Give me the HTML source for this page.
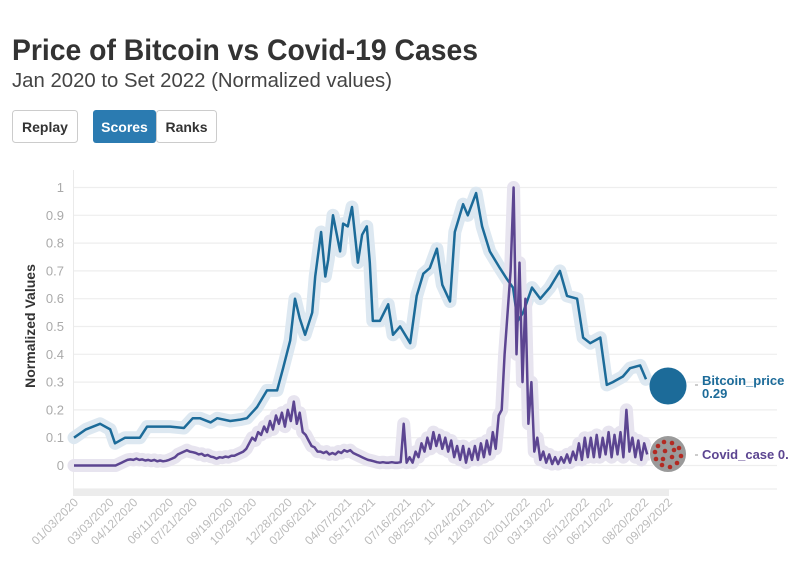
<!DOCTYPE html>
<html><head><meta charset="utf-8"><style>
body{margin:0;background:#fff;width:796px;height:575px;overflow:hidden;font-family:"Liberation Sans",sans-serif}
svg{display:block}
</style></head><body>
<svg width="796" height="575">
<text x="12" y="60" font-size="30" font-weight="bold" fill="#333" textLength="466" lengthAdjust="spacingAndGlyphs">Price of Bitcoin vs Covid-19 Cases</text>
<text x="12" y="87" font-size="20" fill="#444" textLength="380" lengthAdjust="spacingAndGlyphs">Jan 2020 to Set 2022 (Normalized values)</text>
<g><rect x="12.5" y="110.5" width="65" height="32" rx="3" fill="#fff" stroke="#ccc"/><text x="45" y="132" font-size="14" font-weight="bold" fill="#333" text-anchor="middle">Replay</text></g>
<g><rect x="93" y="110" width="63" height="33" rx="3" fill="#2b7bb1"/><text x="124.5" y="132" font-size="14" font-weight="bold" fill="#fff" text-anchor="middle">Scores</text></g>
<g><rect x="156.5" y="110.5" width="60" height="32" rx="3" fill="#fff" stroke="#ccc"/><text x="186.5" y="132" font-size="14" font-weight="bold" fill="#333" text-anchor="middle">Ranks</text></g>
<g id="plot"></g>
</svg>
<script>
const yTicks=[0,0.1,0.2,0.3,0.4,0.5,0.6,0.7,0.8,0.9,1];
const yTickLabels=["0","0.1","0.2","0.3","0.4","0.5","0.6","0.7","0.8","0.9","1"];
const xTickDays=[0,60,100,160,200,260,300,360,400,460,500,560,600,660,700,760,800,860,900,960,1000];
const xTickLabels=["01/03/2020","03/03/2020","04/12/2020","06/11/2020","07/21/2020","09/19/2020","10/29/2020","12/28/2020","02/06/2021","04/07/2021","05/17/2021","07/16/2021","08/25/2021","10/24/2021","12/03/2021","02/01/2022","03/13/2022","05/12/2022","06/21/2022","08/20/2022","09/29/2022"];
const btcDays=[0,20,44,61,69,86,111,123,140,162,185,200,212,230,241,263,280,291,308,325,342,352,364,372,380,389,401,406,416,423,428,436,448,453,461,468,478,485,493,498,503,515,529,537,549,566,577,588,599,611,620,633,641,655,663,677,687,700,717,729,739,747,756,771,785,801,818,830,847,857,869,886,897,907,924,936,953,963];
const btcVals=[0.10,0.13,0.15,0.13,0.08,0.10,0.10,0.14,0.14,0.14,0.135,0.17,0.17,0.155,0.17,0.16,0.165,0.17,0.21,0.27,0.27,0.35,0.45,0.60,0.53,0.47,0.55,0.68,0.84,0.68,0.74,0.90,0.77,0.87,0.86,0.93,0.73,0.83,0.86,0.73,0.52,0.52,0.58,0.47,0.50,0.44,0.61,0.69,0.71,0.78,0.65,0.59,0.84,0.94,0.90,0.98,0.86,0.77,0.71,0.67,0.64,0.52,0.55,0.64,0.60,0.64,0.70,0.61,0.60,0.46,0.44,0.46,0.29,0.30,0.32,0.35,0.36,0.31];
const covidStep=5;
const covidVals=[0,0,0,0,0,0,0,0,0,0,0,0,0,0,0,
0.005,0.01,0.015,0.02,0.022,0.02,0.025,0.02,0.022,0.018,0.02,0.017,0.02,0.015,0.018,0.015,0.017,0.02,0.025,0.03,0.04,0.045,0.05,0.055,0.05,0.048,0.045,0.04,0.042,0.035,0.038,0.032,0.03,0.025,0.03,0.028,0.032,0.03,0.035,0.035,0.04,0.045,0.05,0.06,0.08,0.1,0.09,0.12,0.11,0.14,0.12,0.16,0.13,0.18,0.15,0.19,0.14,0.2,0.16,0.23,0.15,0.19,0.12,0.11,0.09,0.07,0.065,0.05,0.05,0.045,0.05,0.04,0.045,0.04,0.05,0.045,0.055,0.05,0.055,0.045,0.04,0.035,0.03,0.025,0.02,0.018,0.015,0.012,0.01,0.012,0.01,0.01,0.012,0.01,0.01,0.012,0.15,
0.01,0.03,0.01,0.05,0.03,0.08,0.05,0.1,0.06,0.12,0.07,0.11,0.06,0.1,0.05,0.09,0.03,0.07,0.02,0.07,0.01,0.06,0.02,0.07,0.02,0.08,0.03,0.09,0.04,0.12,0.06,0.18,0.2,0.4,0.55,0.7,1.0,0.4,0.73,0.3,0.6,0.15,0.3,0.05,0.1,0.02,0.05,0.01,0.04,0.005,0.03,0.005,0.03,0.01,0.04,0.01,0.05,0.02,0.08,0.02,0.1,0.03,0.1,0.03,0.11,0.03,0.1,0.04,0.12,0.03,0.11,0.04,0.12,0.03,0.2,0.05,0.1,0.03,0.09,0.02,0.08,0.04];
const legendValues=["0.29","0."];

const NS="http://www.w3.org/2000/svg";
const plot=document.getElementById('plot');
const X=d=>74+d*0.594;
const Y=v=>465.5-v*278;
function mk(tag,attrs,parent){const e=document.createElementNS(NS,tag);for(const k in attrs)e.setAttribute(k,attrs[k]);(parent||plot).appendChild(e);return e;}

// grid
yTicks.forEach((t,i)=>{
  const g=mk('line',{x1:73,x2:777,y1:Y(t),y2:Y(t),stroke:'#eeeeee','stroke-width':1.2});
  
  
  const tx=mk('text',{x:64,y:Y(t)+4.5,'font-size':13,fill:'#aaa','text-anchor':'end'});
  tx.textContent=yTickLabels[i];
  
  
});
const bg=mk('line',{x1:73,x2:777,y1:489,y2:489,stroke:'#eeeeee','stroke-width':1.2});


const ax=mk('line',{x1:73.5,x2:73.5,y1:170,y2:492,stroke:'#eaeaea','stroke-width':1});


const sb=mk('rect',{x:73,y:489,width:596,height:7,fill:'#ececec'});



const yt=mk('text',{x:0,y:0,'font-size':14,'font-weight':'bold',fill:'#333','text-anchor':'middle',transform:'translate(35,326) rotate(-90)'});
yt.textContent='Normalized Values';



xTickDays.forEach((d,i)=>{
  const t=mk('text',{x:0,y:0,'font-size':12,fill:'#bbb','text-anchor':'end',transform:`translate(${X(d)+5},${503}) rotate(-45)`});
  t.textContent=xTickLabels[i];
  
  
});

function path(xs,ys){return xs.map((x,i)=>(i?'L':'M')+X(x).toFixed(1)+','+Y(ys[i]).toFixed(1)).join('');}
const covidDays=covidVals.map((v,i)=>i*covidStep);
const bp=path(btcDays,btcVals), cp=path(covidDays,covidVals);
const g1=mk('path',{d:bp,fill:'none',stroke:'#dde8f1','stroke-width':13,'stroke-linejoin':'round','stroke-linecap':'round'});


const g2=mk('path',{d:cp,fill:'none',stroke:'#e7e4ef','stroke-width':13,'stroke-linejoin':'round','stroke-linecap':'round'});


const l1=mk('path',{d:bp,fill:'none',stroke:'#1c6b99','stroke-width':2.5,'stroke-linejoin':'round'});


const l2=mk('path',{d:cp,fill:'none',stroke:'#5c4591','stroke-width':2.5,'stroke-linejoin':'round'});



// legend / end markers
const c1=mk('circle',{cx:668,cy:386,r:18.5,fill:'#1c6b99'});


const c2=mk('circle',{cx:668,cy:454,r:18.5,fill:'#9a9a9a',stroke:'#fff','stroke-width':1});


[[-10,-8],[-4,-12],[4,-11],[11,-6],[13,2],[9,9],[2,13],[-6,11],[-12,5],[-13,-2],[-3,-3],[4,3],[-5,5],[6,-4]].forEach(p=>{
  const dot=mk('circle',{cx:668+p[0],cy:454+p[1],r:2.3,fill:'#b22a22'});
  
  
});
[[695,385],[695,455]].forEach(p=>{const d=mk('line',{x1:p[0],x2:p[0]+3,y1:p[1],y2:p[1],stroke:'#999'});});
const t1=mk('text',{x:702,y:385,'font-size':13,'font-weight':'bold',fill:'#1c6b99'});t1.textContent='Bitcoin_price';


const t1b=mk('text',{x:702,y:398,'font-size':13,'font-weight':'bold',fill:'#1c6b99'});t1b.textContent=legendValues[0];


const t2=mk('text',{x:702,y:459,'font-size':13,'font-weight':'bold',fill:'#5c4591'});t2.textContent='Covid_case '+legendValues[1];


</script>
</body></html>
